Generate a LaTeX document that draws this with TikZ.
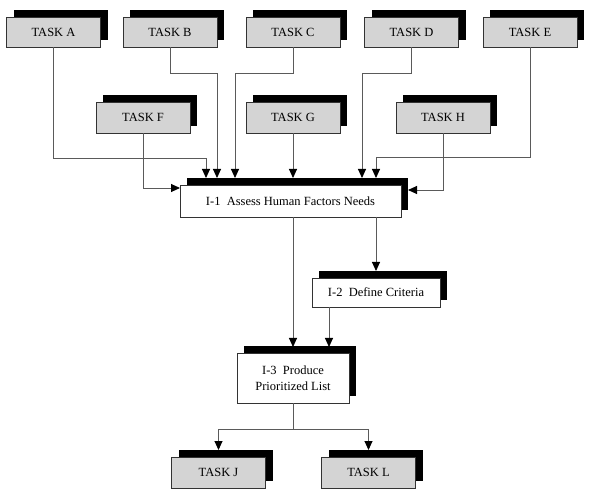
\documentclass[tikz,border=0pt]{standalone}
\usepackage{fontspec}
\setmainfont{Liberation Serif}
\usetikzlibrary{arrows.meta,shadows}
\definecolor{taskgray}{HTML}{D4D4D4}
\definecolor{linegray}{HTML}{5A5A5A}
\tikzset{
  base/.style={draw=black!80, line width=0.9pt, inner sep=0pt, align=center,
    font=\fontsize{12.5}{16}\selectfont,
    drop shadow={shadow xshift=7pt, shadow yshift=7pt, fill=black, opacity=1}},
  taskbox/.style={base, fill=taskgray, minimum width=94pt, minimum height=30pt},
  procbox/.style={base, fill=white},
  conn/.style={draw=linegray, line width=0.9pt, -{Triangle[length=9pt,width=8pt,black]}},
}
\begin{document}
\begin{tikzpicture}[x=1pt,y=-1pt]
\useasboundingbox (0,0) rectangle (590,500);
% top row
\node[taskbox] (A) at (53.5,32) {TASK A};
\node[taskbox] (B) at (170,32) {TASK B};
\node[taskbox] (C) at (293,32) {TASK C};
\node[taskbox] (D) at (411.5,32) {TASK D};
\node[taskbox] (E) at (530,32) {TASK E};
% second row
\node[taskbox,minimum height=31pt] (F) at (143,117.5) {TASK F};
\node[taskbox,minimum height=31pt] (G) at (293,117.5) {TASK G};
\node[taskbox,minimum height=31pt] (H) at (443,117.5) {TASK H};
% process boxes
\node[procbox,minimum width=221pt,minimum height=32pt] (I1) at (290.5,201) {I-1\ \ Assess Human Factors Needs};
\node[procbox,minimum width=128pt,minimum height=29pt] (I2) at (376,292.5) {I-2\ \ Define Criteria};
\node[procbox,minimum width=112pt,minimum height=50pt] (I3) at (293,378) {I-3\ \ Produce\\Prioritized List};
% bottom row
\node[taskbox,minimum height=31pt] (J) at (218.5,472.5) {TASK J};
\node[taskbox,minimum height=31pt] (L) at (368.5,472.5) {TASK L};
% helper coordinates
\coordinate (aA) at (206,178);
\coordinate (aB) at (217,178);
\coordinate (aC) at (235,178);
\coordinate (aG) at (293,178);
\coordinate (aD) at (362,178);
\coordinate (aE) at (376,178);
\coordinate (aH) at (408,190);
\coordinate (aF) at (180,188);
% connectors into I-1
\draw[conn] (A.south) |- (aA |- 0,158) -- (aA);
\draw[conn] (B.south) |- (aB |- 0,73) -- (aB);
\draw[conn] (C.south) |- (aC |- 0,73) -- (aC);
\draw[conn] (G.south) -- (aG);
\draw[conn] (D.south) |- (aD |- 0,73) -- (aD);
\draw[conn] (E.south) |- (aE |- 0,157) -- (aE);
\draw[conn] (H.south) |- (aH);
\draw[conn] (F.south) |- (aF);
% I-1 outputs
\coordinate (o1) at (293,217);
\coordinate (o2) at (376,217);
\draw[conn] (o2) -- (o2 |- 0,271);
\draw[conn] (o1) -- (o1 |- 0,347);
% I-2 to I-3
\coordinate (o3) at (329,307);
\draw[conn] (o3) -- (o3 |- 0,347);
% I-3 outputs
\coordinate (jt) at (218.5,450);
\coordinate (lt) at (368.5,450);
\coordinate (br) at (293,429);
\draw[conn] (I3.south) -- (br) -| (jt);
\draw[conn] (br) -| (lt);
\end{tikzpicture}
\end{document}
